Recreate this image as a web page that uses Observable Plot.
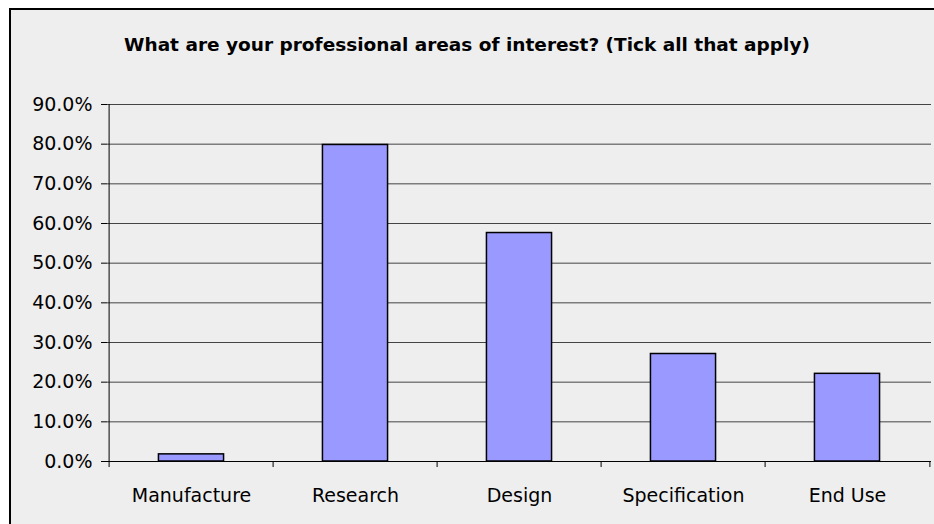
<!DOCTYPE html>
<html>
<head>
<meta charset="utf-8">
<script src="https://cdn.jsdelivr.net/npm/d3@7"></script>
<script src="https://cdn.jsdelivr.net/npm/@observablehq/plot@0.6"></script>
<style>
  html, body { margin: 0; padding: 0; background: #ffffff; width: 934px; height: 524px; overflow: hidden; }
  #frame { position: absolute; left: 9px; top: 8px; width: 925px; height: 516px; box-sizing: border-box;
           background: #eeeeee; border-left: 2px solid #000; border-top: 2px solid #000; }
  #title { position: absolute; left: 0; top: 0; width: 934px; height: 60px; text-align: center;
           font-family: "DejaVu Sans", sans-serif; font-weight: bold; font-size: 18.5px; line-height: 19px;
           padding-top: 35px; box-sizing: border-box; color: #000; }
  #chart { position: absolute; left: 0; top: 60px; }
</style>
</head>
<body>
<div id="frame"></div>
<div id="title">What are your professional areas of interest? (Tick all that apply)</div>
<div id="chart"></div>
<script>
const categories = ["Manufacture", "Research", "Design", "Specification", "End Use"];
const values = [0.018, 0.798, 0.576, 0.271, 0.221];
const yTicks = [0, 0.1, 0.2, 0.3, 0.4, 0.5, 0.6, 0.7, 0.8, 0.9];

const data = categories.map((c, i) => ({category: c, value: values[i]}));

const width = 934, height = 464;
const marginLeft = 107, marginRight = 3, marginTop = 44, marginBottom = 63;
const bw = (width - marginLeft - marginRight) / categories.length;
const lastCat = [categories[categories.length - 1]];

const plot = Plot.plot({
  width, height, marginLeft, marginRight, marginTop, marginBottom,
  style: {background: "transparent", fontFamily: "DejaVu Sans, sans-serif", fontSize: "19px", color: "#000"},
  x: {domain: categories, padding: 0, label: null},
  y: {domain: [0, 0.9], label: null},
  marks: [
    Plot.ruleY(yTicks.slice(1), {stroke: "#444", strokeWidth: 1}),
    Plot.barY(data, {x: "category", y: "value", fill: "#9999ff", stroke: "#000", strokeWidth: 1.5,
                     insetLeft: bw * 0.3, insetRight: bw * 0.3}),
    Plot.ruleY([0], {stroke: "#000", strokeWidth: 1}),
    Plot.ruleX(categories, {x: d => d, dx: -bw / 2, y1: 0, y2: 0, insetBottom: -6, stroke: "#000"}),
    Plot.ruleX([categories[0]], {x: d => d, dx: -bw / 2, y1: 0, y2: 0.9, stroke: "#000"}),
    Plot.ruleX(lastCat, {x: d => d, dx: bw / 2, y1: 0, y2: 0, insetBottom: -6, stroke: "#000"}),
    Plot.axisY({ticks: yTicks, tickFormat: d3.format(".1%"), tickSize: 6, tickPadding: 9, stroke: "#000",
                fontSize: 19, label: null}),
    Plot.axisX({tickSize: 0, tickPadding: 27, fontSize: 19, label: null})
  ]
});
document.getElementById("chart").appendChild(plot);
</script>
</body>
</html>
